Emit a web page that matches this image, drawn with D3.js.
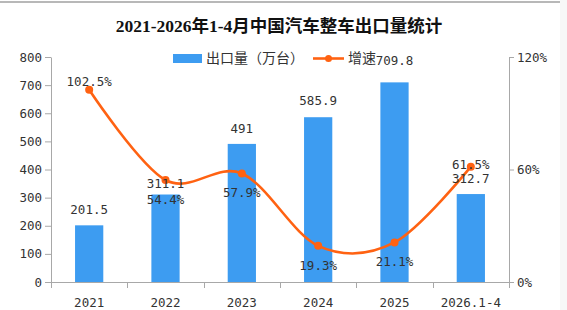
<!DOCTYPE html>
<html><head><meta charset="utf-8">
<script src="https://cdn.jsdelivr.net/npm/d3@7/dist/d3.min.js"></script>
<style>
html,body{margin:0;padding:0;background:#fff;}
svg{display:block;}
</style></head>
<body>
<svg id="chart" width="567" height="310"></svg>
<script>
// ---- data ----
const title = "2021-2026年1-4月中国汽车整车出口量统计";
const categories = ["2021", "2022", "2023", "2024", "2025", "2026.1-4"];
const exportVolume = [201.5, 311.1, 491, 585.9, 709.8, 312.7];   // 万台
const growthRate = [102.5, 54.4, 57.9, 19.3, 21.1, 61.5];        // %
const leftTicks = [0, 100, 200, 300, 400, 500, 600, 700, 800];
const rightTicks = [0, 60, 120];
const seriesNames = ["出口量（万台）", "增速"];

// ---- layout / style (not data) ----
const barLabelDy = [-11, -7, -11, -12, -17, -11];
const growthLabelDy = [-4, 24, 24, 24, 24, 2];
const barColor = "#3d9cf1", lineColor = "#ff6212", axisColor = "#a8a8a8", textColor = "#333";
const monoFont = "'DejaVu Sans Mono', monospace";
const cjkFont = "'Noto Sans CJK SC', sans-serif";

const svg = d3.select("#chart");
const plot = {left: 51, right: 509, top: 57, bottom: 282};

// frame bits
svg.append("rect").attr("x", 560).attr("y", 0).attr("width", 7).attr("height", 310).attr("fill", "#f7f7f7");
svg.append("line").attr("x1", 0).attr("x2", 560).attr("y1", 2).attr("y2", 2).attr("stroke", "#a0a0a0").attr("stroke-width", 1.5);

// title
svg.append("text").attr("x", 279).attr("y", 32).attr("text-anchor", "middle")
  .attr("font-family", "'Liberation Serif','Noto Sans CJK SC',serif").attr("font-weight", "bold")
  .attr("font-size", 17.5).attr("fill", "#111").text(title);

const x = d3.scaleBand().domain(categories).range([plot.left, plot.right]).padding(0);
const yL = d3.scaleLinear().domain([0, 800]).range([plot.bottom, plot.top]);
const yR = d3.scaleLinear().domain([0, 120]).range([plot.bottom, plot.top]);
const barW = x.bandwidth() * 0.37;
const cx = c => x(c) + x.bandwidth() / 2;

// bars
svg.append("g").selectAll("rect").data(categories).join("rect")
  .attr("x", c => cx(c) - barW / 2)
  .attr("y", (c, i) => yL(exportVolume[i]))
  .attr("width", barW)
  .attr("height", (c, i) => yL(0) - yL(exportVolume[i]))
  .attr("fill", barColor);

// axes
const styleAxis = g => {
  g.select(".domain").attr("stroke", axisColor);
  g.selectAll(".tick line").attr("stroke", axisColor);
  g.selectAll(".tick text").attr("fill", textColor).attr("font-family", monoFont).attr("font-size", 12.5);
};
svg.append("g").attr("transform", `translate(${plot.left},0)`)
  .call(d3.axisLeft(yL).tickValues(leftTicks).tickSize(6).tickSizeOuter(0).tickPadding(3))
  .call(styleAxis);
svg.append("g").attr("transform", `translate(${plot.right},0)`)
  .call(d3.axisRight(yR).tickValues(rightTicks).tickFormat(d => d + "%").tickSize(5).tickSizeOuter(0).tickPadding(3))
  .call(styleAxis);
const xa = svg.append("g").attr("transform", `translate(0,${plot.bottom})`)
  .call(d3.axisBottom(x).tickSize(0).tickSizeOuter(0).tickPadding(16))
  .call(styleAxis);
xa.select(".domain").attr("d", `M${plot.left - 6},0.5H${plot.right}`);
// boundary ticks
const bounds = categories.map(c => x(c)).concat([plot.right]);
svg.append("g").selectAll("line").data(bounds).join("line")
  .attr("x1", d => Math.round(d) + 0.5).attr("x2", d => Math.round(d) + 0.5)
  .attr("y1", plot.bottom).attr("y2", plot.bottom + 6).attr("stroke", axisColor);

// line
const pts = categories.map((c, i) => [cx(c), yR(growthRate[i])]);
svg.append("path").datum(pts)
  .attr("d", d3.line().curve(d3.curveCardinal.tension(0)))
  .attr("fill", "none").attr("stroke", lineColor).attr("stroke-width", 2.6);
svg.append("g").selectAll("circle").data(pts).join("circle")
  .attr("cx", d => d[0]).attr("cy", d => d[1]).attr("r", 4).attr("fill", lineColor);

// bar labels
svg.append("g").selectAll("text").data(categories).join("text")
  .attr("x", c => cx(c))
  .attr("y", (c, i) => yL(exportVolume[i]) + barLabelDy[i])
  .attr("text-anchor", "middle").attr("font-family", monoFont).attr("font-size", 12.5)
  .attr("fill", textColor).text((c, i) => exportVolume[i]);

// growth labels
svg.append("g").selectAll("text").data(categories).join("text")
  .attr("x", c => cx(c))
  .attr("y", (c, i) => yR(growthRate[i]) + growthLabelDy[i])
  .attr("text-anchor", "middle").attr("font-family", monoFont).attr("font-size", 12.5)
  .attr("fill", textColor).text((c, i) => growthRate[i].toFixed(1) + "%");

// legend
const lg = svg.append("g");
lg.append("rect").attr("x", 173).attr("y", 54).attr("width", 29).attr("height", 9).attr("fill", barColor);
lg.append("text").attr("x", 206).attr("y", 63).attr("font-family", cjkFont).attr("font-size", 14)
  .attr("fill", textColor).text(seriesNames[0]);
lg.append("line").attr("x1", 313).attr("x2", 344).attr("y1", 58.5).attr("y2", 58.5)
  .attr("stroke", lineColor).attr("stroke-width", 2.6);
lg.append("circle").attr("cx", 328.5).attr("cy", 58.5).attr("r", 3.5).attr("fill", lineColor);
lg.append("text").attr("x", 348).attr("y", 63).attr("font-family", cjkFont).attr("font-size", 14)
  .attr("fill", textColor).text(seriesNames[1]);
</script>
</body></html>
